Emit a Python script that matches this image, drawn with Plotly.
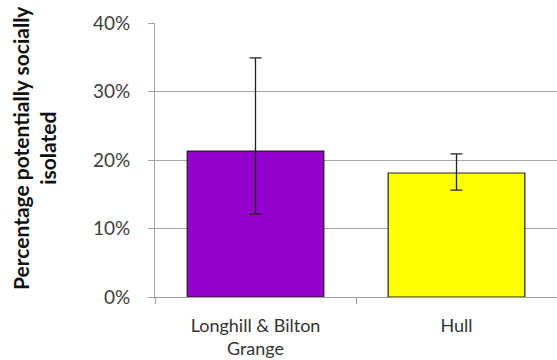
import plotly.graph_objects as go

categories = ["Longhill & Bilton<br>Grange", "Hull"]
values = [0.213, 0.181]
err_upper = [0.349, 0.209]
err_lower = [0.121, 0.156]
colors = ["#9400CC", "#FFFF00"]
y_ticks = [0, 0.1, 0.2, 0.3, 0.4]
y_tick_labels = ["0%", "10%", "20%", "30%", "40%"]
y_title = "<b>Percentage potentially socially<br>isolated</b>"

plus = [u - v for u, v in zip(err_upper, values)]
minus = [v - l for v, l in zip(values, err_lower)]

fig = go.Figure(go.Bar(
    x=categories, y=values, width=0.68,
    marker=dict(color=colors, line=dict(color="#222222", width=1.2)),
    error_y=dict(type="data", symmetric=False, array=plus, arrayminus=minus,
                 color="#222222", thickness=1.3, width=6),
))

fig.update_layout(
    width=557, height=360,
    margin=dict(l=155, r=0, t=23, b=63),
    plot_bgcolor="white", paper_bgcolor="white",
    showlegend=False,
    font=dict(family="Lato, Open Sans, sans-serif", color="#404040"),
    xaxis=dict(
        showline=True, linecolor="#a0a0a0", linewidth=1,
        ticks="outside", tickson="boundaries", ticklen=6, tickcolor="#a0a0a0",
        tickfont=dict(size=18, color="#333333"),
        ticklabelstandoff=12,
        showgrid=False,
    ),
    yaxis=dict(
        range=[0, 0.4], tickvals=y_ticks, ticktext=y_tick_labels,
        showline=True, linecolor="#a0a0a0", linewidth=1,
        ticks="outside", ticklen=6, tickcolor="#a0a0a0",
        ticklabelstandoff=14,
        showgrid=True, gridcolor="#a8a8a8", gridwidth=1,
        tickfont=dict(size=19, color="#404040"),
        zeroline=False,
    ),
    annotations=[dict(
        text=y_title, textangle=-90, showarrow=False,
        xref="paper", yref="paper", x=-0.301, y=0.544,
        xanchor="center", yanchor="middle",
        font=dict(size=21, color="#111111"),
    )],
)

fig.write_html("out.html", config={"displayModeBar": False},
               post_script="document.body.style.margin='0';")
